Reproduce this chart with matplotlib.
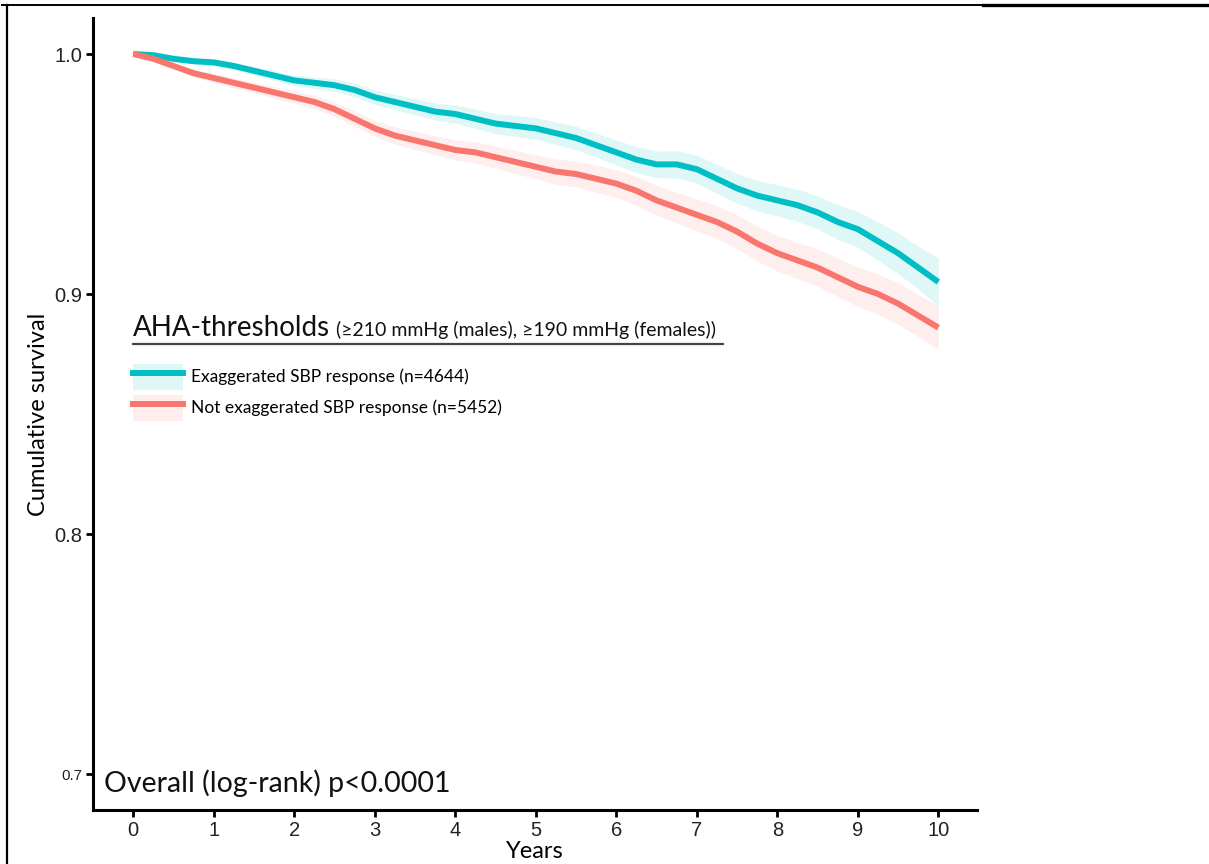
import matplotlib
matplotlib.use("Agg")
import matplotlib.pyplot as plt
from matplotlib.lines import Line2D
from matplotlib.patches import Patch
import numpy as np

# ---- data ----
years = [0, 0.25, 0.5, 0.75, 1.0, 1.25, 1.5, 1.75, 2.0, 2.25, 2.5, 2.75, 3.0, 3.25,
         3.5, 3.75, 4.0, 4.25, 4.5, 4.75, 5.0, 5.25, 5.5, 5.75, 6.0, 6.25, 6.5, 6.75,
         7.0, 7.25, 7.5, 7.75, 8.0, 8.25, 8.5, 8.75, 9.0, 9.25, 9.5, 9.75, 10.0]

surv_exag = [1.000, 0.9995, 0.998, 0.997, 0.9965, 0.995, 0.993, 0.991, 0.989, 0.988,
             0.987, 0.985, 0.982, 0.980, 0.978, 0.976, 0.975, 0.973, 0.971, 0.970,
             0.969, 0.967, 0.965, 0.962, 0.959, 0.956, 0.954, 0.954, 0.952, 0.948,
             0.944, 0.941, 0.939, 0.937, 0.934, 0.930, 0.927, 0.922, 0.917, 0.911, 0.905]

surv_not = [1.000, 0.998, 0.995, 0.992, 0.990, 0.988, 0.986, 0.984, 0.982, 0.980,
            0.977, 0.973, 0.969, 0.966, 0.964, 0.962, 0.960, 0.959, 0.957, 0.955,
            0.953, 0.951, 0.950, 0.948, 0.946, 0.943, 0.939, 0.936, 0.933, 0.930,
            0.926, 0.921, 0.917, 0.914, 0.911, 0.907, 0.903, 0.900, 0.896, 0.891, 0.886]

ci_exag = [0.0, 0.0008, 0.001, 0.0012, 0.0014, 0.0016, 0.0018, 0.002, 0.0022, 0.0024,
           0.0026, 0.0028, 0.003, 0.0032, 0.0034, 0.0036, 0.0038, 0.004, 0.0042, 0.0044,
           0.0045, 0.0047, 0.0049, 0.005, 0.0052, 0.0054, 0.0055, 0.0057, 0.0058, 0.006,
           0.0062, 0.0064, 0.0065, 0.0067, 0.0069, 0.0072, 0.0075, 0.008, 0.0085, 0.009, 0.010]

ci_not = [0.0, 0.0008, 0.0012, 0.0015, 0.0018, 0.002, 0.0022, 0.0024, 0.0026, 0.0028,
          0.003, 0.0032, 0.0034, 0.0036, 0.0038, 0.004, 0.0042, 0.0044, 0.0046, 0.0048,
          0.005, 0.0052, 0.0054, 0.0056, 0.0058, 0.006, 0.0062, 0.0064, 0.0066, 0.0068,
          0.007, 0.0072, 0.0074, 0.0076, 0.0078, 0.008, 0.0082, 0.0084, 0.0086, 0.0088, 0.009]

labels = ["Exaggerated SBP response (n=4644)", "Not exaggerated SBP response (n=5452)"]
colors = ["#00BFC4", "#F8766D"]
x_ticks = list(range(0, 11))
y_ticks = [0.7, 0.8, 0.9, 1.0]
legend_title = "AHA-thresholds"
legend_sub = "(\u2265210 mmHg (males), \u2265190 mmHg (females))"
pval_text = "Overall (log-rank) p<0.0001"

TXT = "Lato"
TICK = "Liberation Sans"

fig = plt.figure(figsize=(12.09, 8.64), dpi=100)
W, H = 1209, 864
ax = fig.add_axes([93 / W, 1 - 810 / H, (977 - 93) / W, (810 - 18) / H])

series = [(surv_exag, ci_exag), (surv_not, ci_not)]
t = np.array(years)
for (s, c), col in zip(series, colors):
    s = np.array(s); c = np.array(c)
    ax.fill_between(t, s - c, s + c, color=col, alpha=0.12, lw=0)
for (s, c), col in zip(series, colors):
    ax.plot(t, s, color=col, lw=4.3, solid_capstyle="butt")

ax.set_xlim(-0.5, 10.48)
ax.set_ylim(0.685, 1.015)
ax.set_xticks(x_ticks)
ax.set_yticks(y_ticks)
ax.set_xticklabels([str(v) for v in x_ticks], fontfamily=TICK, fontsize=14.5, color="#222222")
ax.set_yticklabels([f"{v:.1f}" for v in y_ticks], fontfamily=TICK, fontsize=14.5, color="#222222")
ax.get_yticklabels()[0].set_fontsize(11)
for sp in ["top", "right"]:
    ax.spines[sp].set_visible(False)
for sp in ["left", "bottom"]:
    ax.spines[sp].set_linewidth(2.2)
ax.tick_params(axis="both", length=5, width=2, direction="out", pad=3)
ax.set_ylabel("Cumulative survival", fontfamily=TXT, fontsize=17, labelpad=3.5)
ax.set_xlabel("Years", fontfamily=TXT, fontsize=17, labelpad=1)

ax.text(0.012, 0.017, pval_text, transform=ax.transAxes, fontfamily=TXT, fontsize=20.5,
        va="bottom", ha="left", color="#111111")

# legend
handles = [(Patch(facecolor=col, alpha=0.12, lw=0), Line2D([], [], color=col, lw=4.3))
           for col in colors]
leg = ax.legend(handles, labels, loc="upper left",
                bbox_to_anchor=((133 - 93) / 884, (810 - 364) / 792),
                frameon=False, borderpad=0, borderaxespad=0, handlelength=2.9,
                handleheight=1.9, handletextpad=0.45, labelspacing=0.3,
                prop={"family": TXT, "size": 12.5})

t1 = fig.text(133 / W, 1 - 341 / H, legend_title, fontfamily=TXT, fontsize=20,
              va="bottom", ha="left", color="#111111")
fig.canvas.draw()
ax.annotate(legend_sub, xy=(1, 0), xycoords=t1, xytext=(4, 1.5), textcoords="offset points",
            fontfamily=TXT, fontsize=14, va="bottom", ha="left", color="#111111")
fig.add_artist(Line2D([133 / W, 723 / W], [1 - 344 / H, 1 - 344 / H], color="#444444", lw=1.6))

# figure border lines
fig.add_artist(Line2D([7 / W, 7 / W], [0, 1 - 5 / H], color="black", lw=1.6))
fig.add_artist(Line2D([2 / W, 983 / W], [1 - 5 / H, 1 - 5 / H], color="black", lw=1.4))
fig.add_artist(Line2D([983 / W, 1208 / W], [1 - 5 / H, 1 - 5 / H], color="black", lw=2.4))

fig.savefig("out.png", dpi=100)
